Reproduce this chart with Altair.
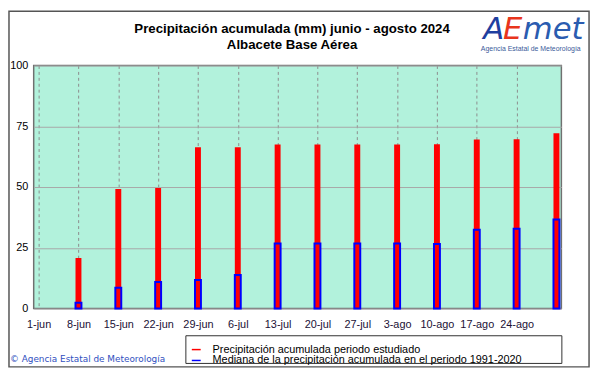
import altair as alt
import pandas as pd

# ---- data ----
days = [7, 14, 21, 28, 35, 42, 49, 56, 63, 70, 77, 84, 91]
acumulada = [20.8, 49.2, 49.6, 66.4, 66.4, 67.5, 67.5, 67.5, 67.5, 67.6, 69.6, 69.7, 72.1]
mediana = [2.4, 8.6, 10.9, 11.8, 13.8, 26.8, 26.8, 26.8, 26.8, 26.6, 32.4, 32.8, 36.6]

tick_days = [0, 7, 14, 21, 28, 35, 42, 49, 56, 63, 70, 77, 84]
tick_labels = ["1-jun", "8-jun", "15-jun", "22-jun", "29-jun", "6-jul", "13-jul",
               "20-jul", "27-jul", "3-ago", "10-ago", "17-ago", "24-ago"]
y_ticks = [0, 25, 50, 75, 100]

serie_names = ["Precipitación acumulada periodo estudiado",
               "Mediana de la precipitación acumulada en el periodo 1991-2020"]
serie_colors = ["#ff0000", "#0000ff"]

title_line1 = "Precipitación acumulada (mm) junio - agosto 2024"
title_line2 = "Albacete Base Aérea"
copyright_text = "© Agencia Estatal de Meteorología"
logo_sub = "Agencia Estatal de Meteorología"

df = pd.DataFrame({"day": days, "acum": acumulada, "med": mediana})
long_df = pd.DataFrame({
    "day": days + days,
    "valor": acumulada + mediana,
    "serie": [serie_names[0]] * len(days) + [serie_names[1]] * len(days),
})
one = pd.DataFrame({"k": [0]})

label_array = "[" + ",".join("'" + t + "'" for t in tick_labels) + "]"

x_enc = alt.X("day:Q",
              scale=alt.Scale(domain=[0, 91], nice=False, zero=False),
              axis=alt.Axis(values=tick_days, title=None, ticks=False, domain=False,
                            grid=True, gridDash=[3, 3], gridColor="#8c8c8c",
                            labelExpr=label_array + "[round(datum.value/7)]",
                            labelFontSize=11, labelFont="Liberation Sans",
                            labelColor="#1a1035", labelPadding=10,
                            labelAngle=0))
y_scale = alt.Scale(domain=[0, 100], nice=False)
y_axis = alt.Axis(values=y_ticks, title=None, ticks=False, domain=False,
                  grid=True, gridColor="#a8a8a8", labelFontSize=11,
                  labelFont="Liberation Sans", labelColor="#000000", labelPadding=6)

red = alt.Chart(df).mark_bar(color="#ff0000", width=6).encode(
    x=x_enc,
    y=alt.Y("acum:Q", scale=y_scale, axis=y_axis),
)
blue = alt.Chart(df).mark_bar(fillOpacity=0, stroke="#0000ff", strokeWidth=2, width=6).encode(
    x="day:Q",
    y="med:Q",
)

legend_layer = alt.Chart(long_df).mark_rule(strokeWidth=0).encode(
    x="day:Q",
    y=alt.value(0),
    y2=alt.value(0),
    color=alt.Color("serie:N",
                    scale=alt.Scale(domain=serie_names, range=serie_colors),
                    legend=alt.Legend(title=None, orient="none", legendX=159, legendY=282,
                                      symbolType="stroke", symbolSize=81,
                                      symbolStrokeWidth=1.5, labelFontSize=11,
                                      labelFont="Liberation Sans", labelColor="#000000",
                                      labelOffset=11, rowPadding=-1, padding=0,
                                      labelLimit=500)),
)

legend_box = alt.Chart(one).mark_rect(fill="white", stroke="#303030", strokeWidth=1).encode(
    x=alt.value(154), x2=alt.value(534.5), y=alt.value(273.5), y2=alt.value(301.5)
)

frame = alt.Chart(one).mark_rect(fillOpacity=0, stroke="#555555", strokeWidth=1.5).encode(
    x=alt.value(-25), x2=alt.value(562), y=alt.value(-55), y2=alt.value(305)
)

title1 = alt.Chart(one).mark_text(align="center", baseline="alphabetic", fontSize=13.4,
                                  fontWeight="bold", font="Liberation Sans", color="#000000").encode(
    x=alt.value(261.5), y=alt.value(-32.5), text=alt.value(title_line1)
)
title2 = alt.Chart(one).mark_text(align="center", baseline="alphabetic", fontSize=13.4,
                                  fontWeight="bold", font="Liberation Sans", color="#000000").encode(
    x=alt.value(261.5), y=alt.value(-16.8), text=alt.value(title_line2)
)

copyright = alt.Chart(one).mark_text(align="left", baseline="middle", fontSize=9,
                                     font="DejaVu Sans", color="#3050c0").encode(
    x=alt.value(-24), y=alt.value(297), text=alt.value(copyright_text)
)

logo_a = alt.Chart(one).mark_text(align="left", baseline="alphabetic", fontSize=31,
                                  font="DejaVu Sans", fontStyle="italic", color="#1f3f9f").encode(
    x=alt.value(455), y=alt.value(-27), text=alt.value("A")
)
logo_e = alt.Chart(one).mark_text(align="left", baseline="alphabetic", fontSize=31,
                                  font="DejaVu Sans", fontStyle="italic", color="#e8351c").encode(
    x=alt.value(475), y=alt.value(-27), text=alt.value("E")
)
logo_met = alt.Chart(one).mark_text(align="left", baseline="alphabetic", fontSize=31,
                                    font="DejaVu Sans", fontStyle="italic", color="#2a5cb0").encode(
    x=alt.value(495), y=alt.value(-27), text=alt.value("met")
)
logo_sub_t = alt.Chart(one).mark_text(align="center", baseline="middle", fontSize=7,
                                      font="Liberation Sans", color="#3a5a9a").encode(
    x=alt.value(503), y=alt.value(-17), text=alt.value(logo_sub)
)

chart = alt.layer(
    frame, legend_box, red, blue, legend_layer, title1, title2, copyright,
    logo_a, logo_e, logo_met, logo_sub_t,
).properties(
    width=534, height=246,
    background="white",
    padding={"left": 26, "top": 56, "right": 32, "bottom": 62},
    autosize=alt.AutoSizeParams(type="none"),
).configure_view(
    fill="#b2f2dc", stroke="#707070", strokeWidth=1.5
)

chart.save("out.html", embed_options={"renderer": "svg", "actions": False})
